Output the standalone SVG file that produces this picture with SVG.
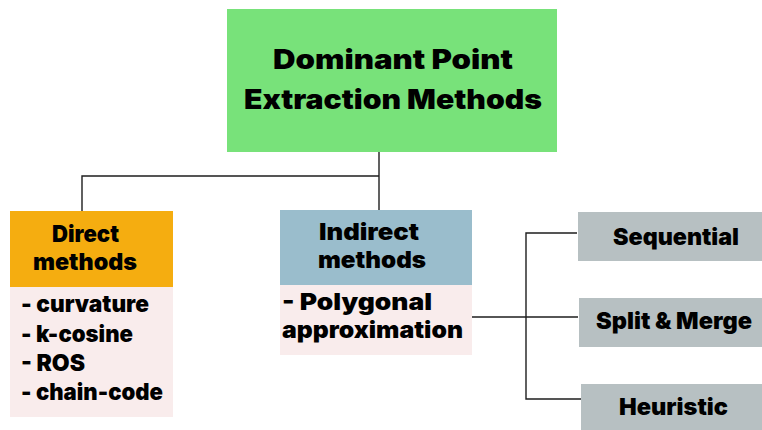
<svg xmlns="http://www.w3.org/2000/svg" width="762" height="430" viewBox="0 0 762 430">
  <style>
    .t { font-family: Inter, "DejaVu Sans", "Liberation Sans", sans-serif; font-weight: 900; fill: #000; }
    .title { font-size: 27px; text-anchor: middle; }
    .head { font-size: 23px; text-anchor: middle; }
    .item { font-size: 23px; }
    .wire { fill: none; stroke: #1e1e1e; stroke-width: 1.4; }
  </style>
  <rect width="762" height="430" fill="#ffffff"/>

  <!-- connectors -->
  <g id="connectors">
    <polyline class="wire" points="379,152 379,210"/>
    <polyline class="wire" points="379,176 82,176 82,211"/>
    <polyline class="wire" points="472,317 578,317"/>
    <polyline class="wire" points="577,233 526,233 526,399 582,399"/>
  </g>

  <!-- root -->
  <g id="root">
    <rect x="227" y="9" width="330" height="143" fill="#78e27a"/>
    <text class="t title" x="393" y="69" textLength="240" lengthAdjust="spacingAndGlyphs">Dominant Point</text>
    <text class="t title" x="393" y="109" textLength="298" lengthAdjust="spacingAndGlyphs">Extraction Methods</text>
  </g>

  <!-- direct methods -->
  <g id="direct">
    <rect x="10" y="211" width="163" height="76" fill="#f5ad10"/>
    <rect x="10" y="287" width="163" height="130" fill="#f9ecec"/>
    <text class="t head" x="85.5" y="242" textLength="67" lengthAdjust="spacingAndGlyphs">Direct</text>
    <text class="t head" x="85" y="270" textLength="104" lengthAdjust="spacingAndGlyphs">methods</text>
    <text class="t item" x="21" y="312" textLength="128" lengthAdjust="spacingAndGlyphs">- curvature</text>
    <text class="t item" x="21" y="342" textLength="112" lengthAdjust="spacingAndGlyphs">- k-cosine</text>
    <text class="t item" x="21" y="371" textLength="64" lengthAdjust="spacingAndGlyphs">- ROS</text>
    <text class="t item" x="21" y="400" textLength="142" lengthAdjust="spacingAndGlyphs">- chain-code</text>
  </g>

  <!-- indirect methods -->
  <g id="indirect">
    <rect x="280" y="210" width="192" height="75" fill="#9abdcc"/>
    <rect x="280" y="285" width="192" height="70" fill="#f9ecec"/>
    <text class="t head" x="369" y="240" textLength="100" lengthAdjust="spacingAndGlyphs">Indirect</text>
    <text class="t head" x="372" y="268" textLength="108" lengthAdjust="spacingAndGlyphs">methods</text>
    <text class="t item" x="282" y="310" textLength="150" lengthAdjust="spacingAndGlyphs">- Polygonal</text>
    <text class="t item" x="282" y="338" textLength="181" lengthAdjust="spacingAndGlyphs">approximation</text>
  </g>

  <!-- polygonal approximation variants -->
  <g id="sequential">
    <rect x="578" y="212" width="184" height="49" fill="#b7c0c2"/>
    <text class="t head" x="676" y="245" textLength="126" lengthAdjust="spacingAndGlyphs">Sequential</text>
  </g>
  <g id="split-merge">
    <rect x="579" y="298" width="183" height="49" fill="#b7c0c2"/>
    <text class="t head" x="674" y="329" textLength="156" lengthAdjust="spacingAndGlyphs">Split &amp; Merge</text>
  </g>
  <g id="heuristic">
    <rect x="581" y="384" width="181" height="46" fill="#b7c0c2"/>
    <text class="t head" x="673.5" y="415" textLength="109" lengthAdjust="spacingAndGlyphs">Heuristic</text>
  </g>
</svg>
